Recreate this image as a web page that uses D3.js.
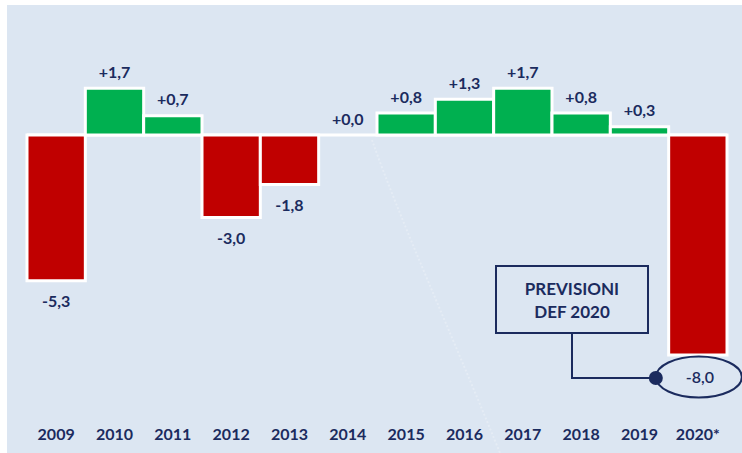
<!DOCTYPE html>
<html>
<head>
<meta charset="utf-8">
<script src="https://d3js.org/d3.v7.min.js"></script>
<style>
  body { margin: 0; background: #fff; }
  text { font-family: Lato, "Open Sans", sans-serif; }
</style>
</head>
<body>
<div id="chart"></div>
<script>
const years = ["2009", "2010", "2011", "2012", "2013", "2014", "2015", "2016", "2017", "2018", "2019", "2020*"];
const growth = [-5.3, 1.7, 0.7, -3.0, -1.8, 0.0, 0.8, 1.3, 1.7, 0.8, 0.3, -8.0];
const calloutLines = ["PREVISIONI", "DEF 2020"];

const navy = "#1b2b5e";
const width = 742, height = 453;

const svg = d3.select("#chart")
  .append("svg")
  .attr("width", width)
  .attr("height", height);

// panel background
svg.append("rect")
  .attr("x", 7).attr("y", 5)
  .attr("width", width - 7).attr("height", height - 5)
  .attr("fill", "#dce6f2");

const x = d3.scaleBand()
  .domain(years)
  .range([27, 727])
  .padding(0);

const y = d3.scaleLinear()
  .domain([0, -8])
  .range([135, 355]);

// faint watermark curve
svg.append("path")
  .attr("d", "M372,140 C400,220 450,330 500,453")
  .attr("fill", "none")
  .attr("stroke", "#ffffff")
  .attr("stroke-opacity", 0.25)
  .attr("stroke-width", 2)
  .attr("stroke-dasharray", "2,2");

// zero line
svg.append("line")
  .attr("x1", x.range()[0]).attr("x2", x.range()[1])
  .attr("y1", y(0)).attr("y2", y(0))
  .attr("stroke", "#fff")
  .attr("stroke-width", 3);

svg.selectAll("rect.bar")
  .data(growth)
  .join("rect")
  .attr("class", "bar")
  .attr("x", (_, i) => x(years[i]))
  .attr("y", d => y(Math.max(0, d)))
  .attr("width", x.bandwidth())
  .attr("height", d => Math.abs(y(d) - y(0)))
  .attr("fill", d => d >= 0 ? "#00b050" : "#c00000")
  .attr("stroke", "#fff")
  .attr("stroke-width", 3)
  .style("display", d => d === 0 ? "none" : null);

const fmt = d => (d >= 0 ? "+" : "-") + Math.abs(d).toFixed(1).replace(".", ",");

// value labels (last one goes inside the ellipse)
svg.selectAll("text.val")
  .data(growth.slice(0, -1))
  .join("text")
  .attr("class", "val")
  .text(d => fmt(d))
  .attr("x", (_, i) => x(years[i]) + x.bandwidth() / 2)
  .attr("y", d => d >= 0 ? y(d) - 16 : y(d) + 21)
  .attr("dy", "0.35em")
  .attr("text-anchor", "middle")
  .attr("font-size", "16px")
  .attr("font-weight", 700)
  .attr("fill", navy);

// year labels
svg.selectAll("text.year")
  .data(years)
  .join("text")
  .attr("class", "year")
  .text(d => d)
  .attr("x", d => x(d) + x.bandwidth() / 2)
  .attr("y", 440)
  .attr("text-anchor", "middle")
  .attr("font-size", "16px")
  .attr("font-weight", 700)
  .attr("fill", navy);

// callout
const last = years[years.length - 1];
const cx = x(last) + x.bandwidth() / 2 + 1;
const cy = y(growth[growth.length - 1]) + 22;

svg.append("ellipse")
  .attr("cx", cx).attr("cy", cy)
  .attr("rx", 43).attr("ry", 20.5)
  .attr("fill", "none")
  .attr("stroke", navy)
  .attr("stroke-width", 2);

svg.append("text")
  .text(fmt(growth[growth.length - 1]))
  .attr("x", cx + 1).attr("y", cy)
  .attr("dy", "0.35em")
  .attr("text-anchor", "middle")
  .attr("font-size", "16px")
  .attr("font-weight", 600)
  .attr("fill", navy);

const box = { x: 496, y: 266, w: 152, h: 67 };
svg.append("path")
  .attr("d", `M${box.x + box.w / 2},${box.y + box.h} V${cy + 1} H${cx - 43}`)
  .attr("fill", "none")
  .attr("stroke", navy)
  .attr("stroke-width", 2);

svg.append("circle")
  .attr("cx", cx - 43).attr("cy", cy + 1)
  .attr("r", 7)
  .attr("fill", navy);

svg.append("rect")
  .attr("x", box.x).attr("y", box.y)
  .attr("width", box.w).attr("height", box.h)
  .attr("fill", "#dce6f2")
  .attr("stroke", navy)
  .attr("stroke-width", 2);

svg.selectAll("text.callout")
  .data(calloutLines)
  .join("text")
  .attr("class", "callout")
  .text(d => d)
  .attr("x", box.x + box.w / 2)
  .attr("y", (_, i) => box.y + 23 + i * 23)
  .attr("dy", "0.35em")
  .attr("text-anchor", "middle")
  .attr("font-size", "17px")
  .attr("font-weight", 700)
  .attr("fill", navy);
</script>
</body>
</html>
